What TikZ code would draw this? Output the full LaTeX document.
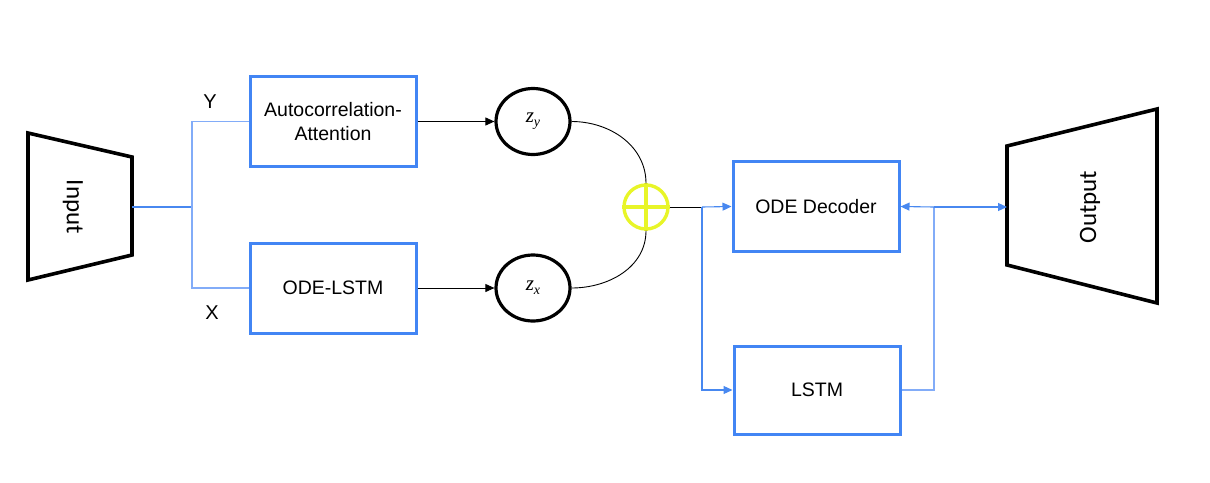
\documentclass[tikz,border=0pt]{standalone}
\usepackage{fontspec}
\setmainfont{Liberation Sans}
\newfontfamily\calib{Carlito}
\newfontfamily\mathser{Liberation Serif}
\usetikzlibrary{arrows.meta,shapes.geometric}
\definecolor{bbox}{RGB}{66,133,244}
\definecolor{bline}{RGB}{72,136,240}
\definecolor{lline}{RGB}{130,172,248}
\definecolor{ylw}{RGB}{232,245,40}
\newcommand{\zsub}[1]{{\mathser\itshape z\raisebox{-0.45ex}{\fontsize{14}{16}\selectfont #1}}}
\begin{document}
\begin{tikzpicture}[x=1pt,y=-1pt,
  blk/.style={draw=bbox,line width=3pt,minimum width=166pt,minimum height=90pt,inner sep=0pt,align=center,font=\fontsize{19.5}{24}\selectfont},
  lat/.style={draw=black,line width=3.2pt,ellipse,minimum width=74pt,minimum height=66pt,inner sep=0pt,font=\fontsize{21}{24}\selectfont},
  trap/.style={draw=black,line width=3.6pt,line join=miter},
  bcon/.style={draw=bline,line width=1.1pt},
  lcon/.style={draw=lline,line width=1.3pt},
  kcon/.style={draw=black,line width=0.9pt},
  tip/.style={-{Triangle[length=9pt,width=8pt]}},
  lab/.style={font=\fontsize{20}{24}\selectfont,inner sep=0pt}
]
\useasboundingbox (0,0) rectangle (1210,482);
% Input
\draw[trap] (28,133) -- (132,157) -- (132,255) -- (28,280) -- cycle;
\node[rotate=-90,font=\calib\fontsize{25}{30}\selectfont] (intext) at (73,207) {Input};
\coordinate (inR) at (132,207);
\coordinate (j1) at (192,207);
% Output
\draw[trap] (1007,146) -- (1157,109) -- (1157,303) -- (1007,265) -- cycle;
\node[rotate=90,font=\calib\fontsize{25}{30}\selectfont] (outtext) at (1090,207) {Output};
\coordinate (outL) at (1007,207);
% boxes
\node[blk] (auto) at (333,121.5) {Autocorrelation-\\Attention};
\node[blk] (odelstm) at (333,288) {ODE-LSTM};
\node[blk] (dec) at (816,206.5) {ODE Decoder};
\node[blk,minimum height=88pt] (lstm) at (817,390) {LSTM};
% labels
\node[lab] (ylab) at (210,102) {Y};
\node[lab] (xlab) at (212,313) {X};
% latent
\node[lat] (zy) at (533,121.5) {\zsub{y}};
\node[lat] (zx) at (533,288) {\zsub{x}};
% oplus
\node[draw=ylw,line width=3.4pt,circle,minimum size=44pt,inner sep=0pt] (op) at (646,207) {};
\draw[draw=ylw,line width=3.4pt] (op.north) -- (op.south) (op.west) -- (op.east);
% connectors
\draw[bcon] (inR) -- (j1);
\draw[lcon] (j1) |- (auto.west);
\draw[lcon] (j1) |- (odelstm.west);
\draw[kcon,tip] (auto.east) -- (zy.west);
\draw[kcon,tip] (odelstm.east) -- (zx.west);
\draw[kcon] (zy.east) to[out=0,in=90] (op.north);
\draw[kcon] (zx.east) to[out=0,in=270] (op.south);
\coordinate (j2) at (702,207);
\draw[kcon] (op.east) -- (j2);
\draw[bcon,tip] (j2) -- (dec.west);
\draw[bcon,tip] (j2) |- (lstm.west);
\coordinate (j3) at (934,207);
\draw[lcon] (lstm.east) -| (j3);
\draw[bcon,tip] (j3) -- (dec.east);
\draw[bcon,tip] (j3) -- (outL);
\end{tikzpicture}
\end{document}
